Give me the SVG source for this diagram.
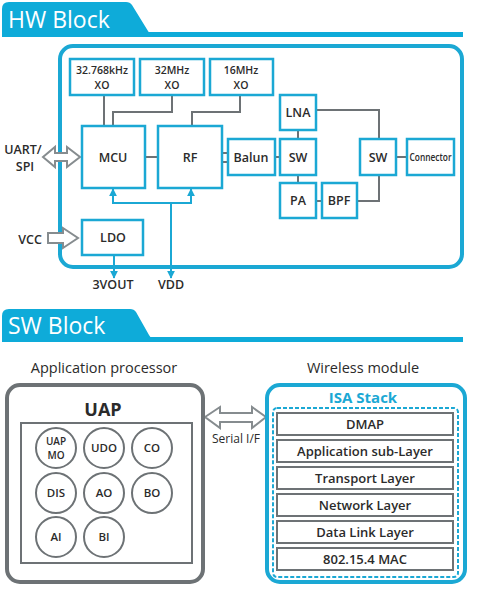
<svg xmlns="http://www.w3.org/2000/svg" width="483" height="598" viewBox="0 0 483 598">
<defs>
<style>
.tab{fill:#0EABD9}
.tabt{fill:#fff;font-family:"Open Sans","Liberation Sans",sans-serif;font-size:23px;font-weight:400}
.frame{fill:#fff;stroke:#1BA8D4;stroke-width:4}
.gframe{fill:#fff;stroke:#6D7275;stroke-width:4}
.bx{fill:#fff;stroke:#1BA8D4;stroke-width:2.5}
.gbx{fill:#fff;stroke:#6D7275;stroke-width:2}
.lbl{fill:#2B2B2B;font-family:"Open Sans","Liberation Sans",sans-serif;font-size:12.5px;font-weight:600;text-anchor:middle}
.xo{font-size:10.5px}
.sm{font-size:11.5px}
.tiny{font-size:10px}
.ln{fill:none;stroke:#6D7275;stroke-width:2}
.bl{fill:none;stroke:#1BA8D4;stroke-width:2}
.hol{fill:#fff;stroke:#868C8F;stroke-width:2;stroke-linejoin:miter}
.hd{fill:#2B2B2B;font-family:"Open Sans","Liberation Sans",sans-serif;font-size:14.5px;font-weight:400;text-anchor:middle}
</style>
<marker id="ah" viewBox="0 0 10 10" refX="9" refY="5" markerWidth="4" markerHeight="4" orient="auto-start-reverse" markerUnits="strokeWidth">
<path d="M0,0 L10,5 L0,10 Z" fill="#1BA8D4"/>
</marker>
</defs>
<rect width="483" height="598" fill="#fff"/>

<!-- HW header -->
<g id="hw-header">
<rect class="tab" x="2" y="32" width="461" height="5"/>
<path class="tab" d="M2,37 V9 Q2,2 9,2 H126 Q130,2 132,5 L148,31 Q150,35 155,35 V37 Z"/>
<text class="tabt" x="8" y="28">HW Block</text>
</g>

<g id="hw-frame"><rect class="frame" x="60" y="46" width="402" height="221" rx="13"/></g>

<g id="connectors">
<polyline class="ln" points="104,95 104,126"/>
<polyline class="ln" points="172,95 172,112 113,112 113,126"/>
<polyline class="ln" points="240,95 240,112 192,112 192,126"/>
<line class="ln" x1="145" y1="157" x2="158" y2="157"/>
<line class="ln" x1="222" y1="153" x2="228" y2="153"/>
<line class="ln" x1="222" y1="162" x2="228" y2="162"/>
<line class="ln" x1="275" y1="157" x2="280" y2="157"/>
<line class="ln" x1="298" y1="130" x2="298" y2="139"/>
<line class="ln" x1="298" y1="175" x2="298" y2="183"/>
<line class="ln" x1="316" y1="201" x2="322" y2="201"/>
<polyline class="ln" points="316,110 379,110 379,139"/>
<polyline class="ln" points="357,201 379,201 379,175"/>
<line class="ln" x1="396" y1="157" x2="407" y2="157"/>
<polyline class="bl" points="113,195 113,203 191,203 191,195"/>
<line class="bl" x1="113" y1="203" x2="113" y2="189" marker-end="url(#ah)"/>
<line class="bl" x1="191" y1="203" x2="191" y2="189" marker-end="url(#ah)"/>
<line class="bl" x1="171" y1="203" x2="171" y2="278" marker-end="url(#ah)"/>
<line class="bl" x1="114" y1="255" x2="114" y2="278" marker-end="url(#ah)"/>
<polygon class="hol" points="43,157 55,147 55,153 67,153 67,147 80,157 67,167 67,161 55,161 55,167"/>
<polygon class="hol" points="48,233 63,233 63,228 78,238 63,248 63,243 48,243"/>
<polygon class="hol" points="205,417 220,407 220,413 252,413 252,407 266,417 252,428 252,422 220,422 220,428"/>
</g>

<g id="xo1"><rect class="bx" x="70" y="59" width="64" height="36"/><text class="lbl xo" x="102" y="74">32.768kHz</text><text class="lbl xo" x="102" y="88.5">XO</text></g>
<g id="xo2"><rect class="bx" x="140" y="59" width="64" height="36"/><text class="lbl xo" x="172" y="74">32MHz</text><text class="lbl xo" x="172" y="88.5">XO</text></g>
<g id="xo3"><rect class="bx" x="210" y="59" width="63" height="36"/><text class="lbl xo" x="241" y="74">16MHz</text><text class="lbl xo" x="241" y="88.5">XO</text></g>
<g id="mcu"><rect class="bx" x="82" y="126" width="63" height="62"/><text class="lbl" x="113" y="162">MCU</text></g>
<g id="rf"><rect class="bx" x="158" y="126" width="64" height="62"/><text class="lbl" x="190" y="162">RF</text></g>
<g id="balun"><rect class="bx" x="228" y="139" width="47" height="36"/><text class="lbl" x="251" y="162">Balun</text></g>
<g id="lna"><rect class="bx" x="280" y="95" width="36" height="35"/><text class="lbl" x="298" y="117">LNA</text></g>
<g id="sw1"><rect class="bx" x="280" y="139" width="36" height="36"/><text class="lbl" x="298" y="162">SW</text></g>
<g id="pa"><rect class="bx" x="280" y="183" width="36" height="35"/><text class="lbl" x="298" y="205">PA</text></g>
<g id="bpf"><rect class="bx" x="322" y="183" width="35" height="35"/><text class="lbl" x="339" y="205">BPF</text></g>
<g id="sw2"><rect class="bx" x="360" y="139" width="36" height="36"/><text class="lbl" x="378" y="162">SW</text></g>
<g id="connector"><rect class="bx" x="407" y="139" width="47" height="36"/><text class="lbl" x="430.5" y="161" style="font-size:10px" textLength="42" lengthAdjust="spacingAndGlyphs">Connector</text></g>
<g id="ldo"><rect class="bx" x="82" y="220" width="61" height="35"/><text class="lbl" x="113" y="242">LDO</text></g>

<g id="labels-hw">
<text class="lbl" x="23" y="154">UART/</text>
<text class="lbl" x="25" y="171">SPI</text>
<text class="lbl" x="30" y="244">VCC</text>
<text class="lbl" x="113" y="289">3VOUT</text>
<text class="lbl" x="171" y="289">VDD</text>
</g>

<!-- SW header -->
<g id="sw-header">
<rect class="tab" x="2" y="337" width="461" height="5"/>
<path class="tab" d="M2,342 V316 Q2,309 9,309 H130 Q134,309 136,312 L149,335 Q151,339 156,339 V342 Z"/>
<text class="tabt" x="8" y="334">SW Block</text>
</g>

<text class="hd" x="104" y="373">Application processor</text>
<text class="hd" x="363" y="373">Wireless module</text>

<g id="uap">
<rect class="gframe" x="7" y="385" width="196" height="197" rx="13"/>
<text class="lbl" x="103" y="416" style="font-size:18px;font-weight:700">UAP</text>
<rect class="gbx" x="21" y="423" width="171" height="140"/>
</g>
<g id="uapmo"><circle class="gbx" cx="56" cy="448" r="20"/><text class="lbl tiny" x="56" y="445">UAP</text><text class="lbl tiny" x="56" y="459">MO</text></g>
<g id="udo"><circle class="gbx" cx="104" cy="448" r="20"/><text class="lbl sm" x="104" y="452">UDO</text></g>
<g id="co"><circle class="gbx" cx="152" cy="448" r="20"/><text class="lbl sm" x="152" y="452">CO</text></g>
<g id="dis"><circle class="gbx" cx="56" cy="493" r="20"/><text class="lbl sm" x="56" y="497">DIS</text></g>
<g id="ao"><circle class="gbx" cx="104" cy="493" r="20"/><text class="lbl sm" x="104" y="497">AO</text></g>
<g id="bo"><circle class="gbx" cx="152" cy="493" r="20"/><text class="lbl sm" x="152" y="497">BO</text></g>
<g id="ai"><circle class="gbx" cx="56" cy="537" r="20"/><text class="lbl sm" x="56" y="541">AI</text></g>
<g id="bi"><circle class="gbx" cx="104" cy="537" r="20"/><text class="lbl sm" x="104" y="541">BI</text></g>

<text x="236" y="443" style="fill:#2B2B2B;font-family:'Open Sans','Liberation Sans',sans-serif;font-size:12px;text-anchor:middle">Serial I/F</text>

<g id="wireless">
<rect class="frame" x="267" y="385" width="198" height="197" rx="13"/>
<text x="363" y="403" style="fill:#1BA8D4;font-family:'Open Sans','Liberation Sans',sans-serif;font-size:15px;font-weight:700;text-anchor:middle">ISA Stack</text>
<rect x="273" y="408" width="185" height="169" rx="4" fill="none" stroke="#1BA8D4" stroke-width="2" stroke-dasharray="4,2"/>
</g>
<g id="dmap"><rect class="gbx" x="277" y="413" width="176" height="22"/><text class="lbl" x="365" y="429" style="font-size:13px">DMAP</text></g>
<g id="asl"><rect class="gbx" x="277" y="440" width="176" height="22"/><text class="lbl" x="365" y="456" style="font-size:13px">Application sub-Layer</text></g>
<g id="tl"><rect class="gbx" x="277" y="467" width="176" height="22"/><text class="lbl" x="365" y="483" style="font-size:13px">Transport Layer</text></g>
<g id="nl"><rect class="gbx" x="277" y="494" width="176" height="22"/><text class="lbl" x="365" y="510" style="font-size:13px">Network Layer</text></g>
<g id="dll"><rect class="gbx" x="277" y="521" width="176" height="22"/><text class="lbl" x="365" y="537" style="font-size:13px">Data Link Layer</text></g>
<g id="mac"><rect class="gbx" x="277" y="548" width="176" height="22"/><text class="lbl" x="365" y="564" style="font-size:13px">802.15.4 MAC</text></g>
</svg>
